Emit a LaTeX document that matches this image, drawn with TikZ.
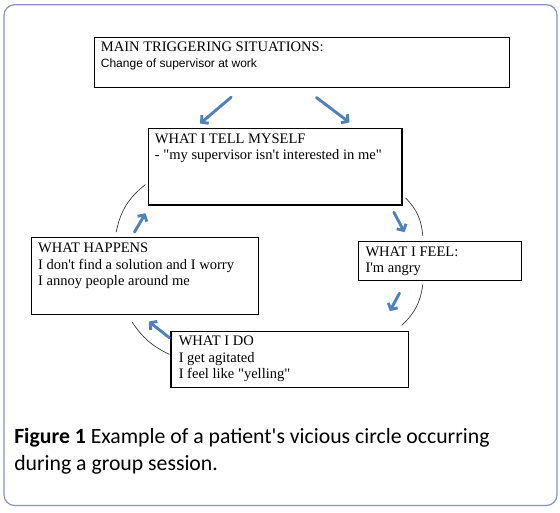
\documentclass[tikz,border=0pt]{standalone}
\usepackage{fontspec}
\setmainfont{Liberation Serif}
\newfontfamily\arialfont{Liberation Sans}
\newfontfamily\captionfont{Carlito}
\usetikzlibrary{arrows.meta, positioning, calc}
\definecolor{framegray}{RGB}{138,144,184}
\definecolor{cycleblue}{RGB}{79,129,189}
\newcommand{\sq}{\textquotesingle}
\newcommand{\dq}{\textquotedbl}
\tikzset{
  box/.style     = {draw, line width=0.8pt, inner sep=0pt},
  boxtext/.style = {inner sep=0pt, align=left, anchor=north west,
                    font=\fontsize{10.9}{12.2}\selectfont},
  flow/.style    = {-{Straight Barb[length=3.5pt, width=8pt]}, line width=2.2pt,
                    draw=cycleblue, line cap=round},
  loop/.style    = {draw=black!80, line width=0.5pt}
}
\begin{document}
\begin{tikzpicture}[x=0.75pt, y=-0.75pt]
\useasboundingbox (0,0) rectangle (560,512);
% outer frame
\draw[framegray, line width=0.9pt, rounded corners=8pt] (4,4.7) rectangle (557,505.5);
% boxes
\node[box, minimum width=311.25pt, minimum height=37.5pt]  (trigger) at (302,62.5)     {};
\node[box, minimum width=190.1pt,  minimum height=57.5pt]  (tell)    at (275.25,166.65) {};
\node[box, minimum width=170.1pt,  minimum height=57.75pt] (happens) at (145.1,275.8)   {};
\node[box, minimum width=122.55pt, minimum height=29.25pt] (feel)    at (440,260.8)     {};
\node[box, minimum width=178.1pt,  minimum height=41.7pt]  (act)     at (289.75,359.5)  {};
% texts
\node[boxtext, below right=3.6pt and 5pt of trigger.north west] (triggertxt)
  {MAIN TRIGGERING SITUATIONS:\\{\arialfont\fontsize{9}{12}\selectfont Change of supervisor at work}};
\node[boxtext, below right=4.2pt and 5pt of tell.north west] (telltxt)
  {WHAT I TELL MYSELF\\- \dq my supervisor isn\sq t interested in me\dq};
\node[boxtext, below right=4.6pt and 5pt of happens.north west] (happenstxt)
  {WHAT HAPPENS\\I don\sq t find a solution and I worry\\I annoy people around me};
\node[boxtext, below right=4.2pt and 5.6pt of feel.north west] (feeltxt)
  {WHAT I FEEL:\\I\sq m angry};
\node[boxtext, below right=3.6pt and 6pt of act.north west] (acttxt)
  {WHAT I DO\\I get agitated\\I feel like \dq yelling\dq};
% blue arrows
\draw[flow] ($(trigger.south west)+(137.2,9.2)$) -- ($(tell.north west)+(52.2,-4.3)$);
\draw[flow] ($(trigger.south west)+(222.5,9.5)$) -- ($(tell.north west)+(201.5,-5.3)$);
\draw[flow] ($(tell.south east)+(-8.7,6.7)$) -- ($(feel.north west)+(46.7,-8.6)$);
\draw[flow] ($(feel.south west)+(41.7,12.4)$) -- ($(act.north east)+(-19.2,-20)$);
\draw[flow] ($(act.north west)+(-1,6.6)$) -- ($(happens.south west)+(117.6,6.7)$);
\draw[flow] ($(happens.north west)+(103.3,-4.6)$) -- ($(tell.south west)+(-2.5,7.7)$);
% circle pieces
\draw[loop] ($(tell.south west)+(-2.5,-21)$) to[bend right=20] ($(happens.north west)+(85,-4.6)$);
\draw[loop] ($(tell.south east)+(3,-7.7)$) to[bend left=20] ($(feel.north west)+(65,-4.6)$);
\draw[loop] ($(feel.south west)+(65,3.7)$) to[bend left=20] ($(act.north east)+(-7.5,-5.7)$);
\draw[loop] ($(happens.south west)+(101,7.4)$) to[bend right=15] ($(act.north west)+(-1,23.3)$);
% caption
\node[anchor=base west, inner sep=0pt, align=left,
      font=\captionfont\fontsize{16.3}{19.9}\selectfont] (caption) at (14,470.5)
  {\textbf{Figure 1} Example of a patient\sq s vicious circle occurring\\during a group session.};
\end{tikzpicture}
\end{document}
